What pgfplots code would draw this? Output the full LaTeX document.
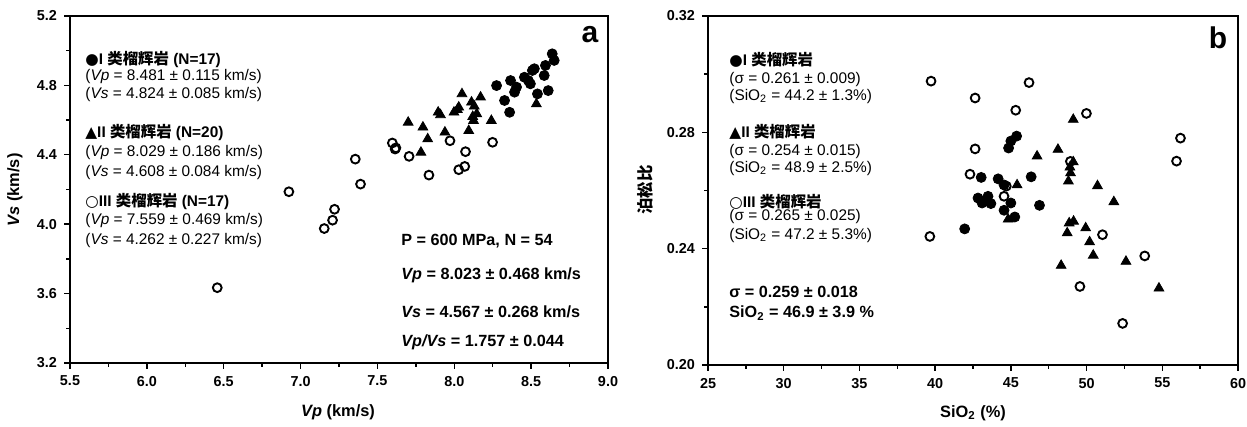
\documentclass[border=0pt]{standalone}
\usepackage{fontspec}
\setmainfont{Liberation Sans}
\newfontfamily\cjk{Noto Sans CJK SC}
\newfontfamily\sym{DejaVu Sans}
\usepackage{pgfplots}
\pgfplotsset{compat=1.18}
\pgfplotsset{myax/.style={scale only axis, axis line style={line width=0.9pt},
  tick align=outside, tick pos=left, major tick length=3pt, minor tick length=2pt,
  every tick/.style={black, line width=0.7pt},
  tick label style={font=\fontsize{7.2}{8}\selectfont\bfseries},
  /pgf/number format/assume math mode=true, clip=false},
  solidc/.style={only marks, mark=*, mark size=2.5pt, mark options={fill=black, draw=black}},
  tri/.style={only marks, mark=triangle*, mark size=2.8pt, mark options={fill=black, draw=black}},
  openc/.style={only marks, mark=o, mark size=2.2pt, mark options={draw=black, line width=0.95pt, fill=white}}}
\newcommand{\lgf}{\fontsize{7.7}{9}\selectfont}
\newcommand{\stf}{\fontsize{8.1}{9}\selectfont\bfseries}
\begin{document}
\begin{tikzpicture}[x=0.5pt,y=0.5pt]
\useasboundingbox (0,0) rectangle (1247,427);
% ---------------- panel a
\begin{axis}[myax, at={(35pt,32pt)}, anchor=south west, width=269pt, height=173.5pt,
  xmin=5.5, xmax=9, ymin=3.2, ymax=5.2,
  xtick={5.5,6,6.5,7,7.5,8,8.5,9}, ytick={3.2,3.6,4.0,4.4,4.8,5.2},
  minor x tick num=1, minor y tick num=1,
  xticklabel style={/pgf/number format/.cd, fixed, fixed zerofill, precision=1},
  yticklabel style={/pgf/number format/.cd, fixed, fixed zerofill, precision=1}]
\addplot[openc] coordinates {(6.458,3.634) (6.924,4.187) (7.154,3.975) (7.208,4.023) (7.221,4.086)
 (7.356,4.375) (7.390,4.231) (7.597,4.468) (7.615,4.433) (7.706,4.391) (7.835,4.283) (7.972,4.481)
 (8.029,4.314) (8.068,4.333) (8.073,4.418) (8.249,4.472) (7.62,4.44)};
\addplot[tri] coordinates {(7.700,4.587) (7.796,4.559) (7.783,4.414) (7.827,4.491) (7.895,4.645)
 (7.939,4.530) (7.998,4.645) (8.029,4.674) (8.050,4.751) (8.094,4.539) (8.112,4.703) (8.125,4.597)
 (8.146,4.636) (8.171,4.732) (8.241,4.597) (8.534,4.693) (7.91,4.63) (8.02,4.66) (8.13,4.68) (8.12,4.62)};
\addplot[solidc] coordinates {(8.275,4.799) (8.327,4.713) (8.360,4.645) (8.366,4.828) (8.405,4.790)
 (8.392,4.761) (8.456,4.847) (8.495,4.809) (8.482,4.828) (8.521,4.896) (8.541,4.751) (8.508,4.886)
 (8.585,4.857) (8.593,4.915) (8.611,4.770) (8.637,4.982) (8.650,4.944)};
\end{axis}
% ---------------- panel b
\begin{axis}[myax, at={(354pt,31pt)}, anchor=south west, width=265pt, height=174.5pt,
  xmin=25, xmax=60, ymin=0.2, ymax=0.32,
  xtick={25,30,35,40,45,50,55,60}, ytick={0.20,0.24,0.28,0.32},
  minor x tick num=1, minor y tick num=1,
  yticklabel style={/pgf/number format/.cd, fixed, fixed zerofill, precision=2}]
\addplot[openc] coordinates {(39.73,0.2976) (46.20,0.2971) (42.64,0.2918) (45.32,0.2876) (49.99,0.2865)
 (56.20,0.2780) (55.94,0.2701) (42.64,0.2743) (42.30,0.2656) (44.55,0.2580) (48.93,0.2700)
 (51.05,0.2448) (53.84,0.2375) (49.56,0.2270) (52.38,0.2143) (39.65,0.2442) (44.70,0.2615)};
\addplot[tri] coordinates {(49.12,0.2844) (48.11,0.2741) (46.73,0.2718) (49.12,0.2698) (48.94,0.2660)
 (48.80,0.2632) (45.41,0.2619) (50.72,0.2616) (51.80,0.2561) (48.85,0.2488) (49.14,0.2494)
 (48.72,0.2454) (49.94,0.2471) (50.20,0.2423) (50.44,0.2377) (48.32,0.2342) (52.60,0.2356)
 (54.78,0.2264) (44.82,0.2501) (48.90,0.2680)};
\addplot[solidc] coordinates {(45.38,0.2787) (45.00,0.2770) (44.85,0.2746) (43.04,0.2645) (44.16,0.2640)
 (46.34,0.2647) (44.55,0.2619) (42.83,0.2574) (43.23,0.2563) (43.49,0.2580) (43.68,0.2555)
 (43.10,0.2557) (45.00,0.2557) (44.55,0.2532) (45.26,0.2509) (46.89,0.2549) (41.95,0.2468)};
\end{axis}
% ---------------- texts panel a
\node[rotate=90, font=\fontsize{8.2}{9}\selectfont\bfseries] at (15,237) {\textit{Vs} (km/s)};
\node[font=\fontsize{8.2}{9}\selectfont\bfseries] at (338,15) {\textit{Vp} (km/s)};
\node[font=\fontsize{15}{16}\selectfont\bfseries] at (590,392) {a};
\begin{scope}[every node/.style={anchor=west, inner sep=0pt}]
\node[font=\lgf\bfseries] at (85,367) {{\sym ●}I {\cjk\bfseries 类榴辉岩} (N=17)};
\node[font=\lgf] at (85,350) {(\textit{Vp} = 8.481 ± 0.115 km/s)};
\node[font=\lgf] at (85,332) {(\textit{Vs} = 4.824 ± 0.085 km/s)};
\node[font=\lgf\bfseries] at (85,294) {{\sym ▲}II {\cjk\bfseries 类榴辉岩} (N=20)};
\node[font=\lgf] at (85,274) {(\textit{Vp} = 8.029 ± 0.186 km/s)};
\node[font=\lgf] at (85,254) {(\textit{Vs} = 4.608 ± 0.084 km/s)};
\node[font=\lgf\bfseries] at (85,225) {{\sym ○}III {\cjk\bfseries 类榴辉岩} (N=17)};
\node[font=\lgf] at (85,206) {(\textit{Vp} = 7.559 ± 0.469 km/s)};
\node[font=\lgf] at (85,186) {(\textit{Vs} = 4.262 ± 0.227 km/s)};
\node[font=\stf] at (401,186) {P = 600 MPa, N = 54};
\node[font=\stf] at (401,152) {\textit{Vp} = 8.023 ± 0.468 km/s};
\node[font=\stf] at (401,115) {\textit{Vs} = 4.567 ± 0.268 km/s};
\node[font=\stf] at (401,85) {\textit{Vp/Vs} = 1.757 ± 0.044};
% ---------------- texts panel b
\node[font=\lgf\bfseries] at (729,367) {{\sym ●}I {\cjk\bfseries 类榴辉岩}};
\node[font=\lgf] at (729,347) {(σ = 0.261 ± 0.009)};
\node[font=\lgf] at (729,330) {(SiO\textsubscript{2} = 44.2 ± 1.3\%)};
\node[font=\lgf\bfseries] at (729,295) {{\sym ▲}II {\cjk\bfseries 类榴辉岩}};
\node[font=\lgf] at (729,275) {(σ = 0.254 ± 0.015)};
\node[font=\lgf] at (729,258) {(SiO\textsubscript{2} = 48.9 ± 2.5\%)};
\node[font=\lgf\bfseries] at (729,225) {{\sym ○}III {\cjk\bfseries 类榴辉岩}};
\node[font=\lgf] at (729,210) {(σ = 0.265 ± 0.025)};
\node[font=\lgf] at (729,191) {(SiO\textsubscript{2} = 47.2 ± 5.3\%)};
\node[font=\stf] at (729,135) {σ = 0.259 ± 0.018};
\node[font=\stf] at (729,114) {SiO\textsubscript{2} = 46.9 ± 3.9 \%};
\end{scope}
\node[font=\fontsize{15}{16}\selectfont\bfseries] at (1218,389) {b};
\node[rotate=90, font=\fontsize{8.2}{9}\selectfont\bfseries] at (645,237) {\cjk\bfseries 泊松比};
\node[font=\fontsize{8.2}{9}\selectfont\bfseries] at (973,14) {SiO\textsubscript{2} (\%)};
\end{tikzpicture}
\end{document}
